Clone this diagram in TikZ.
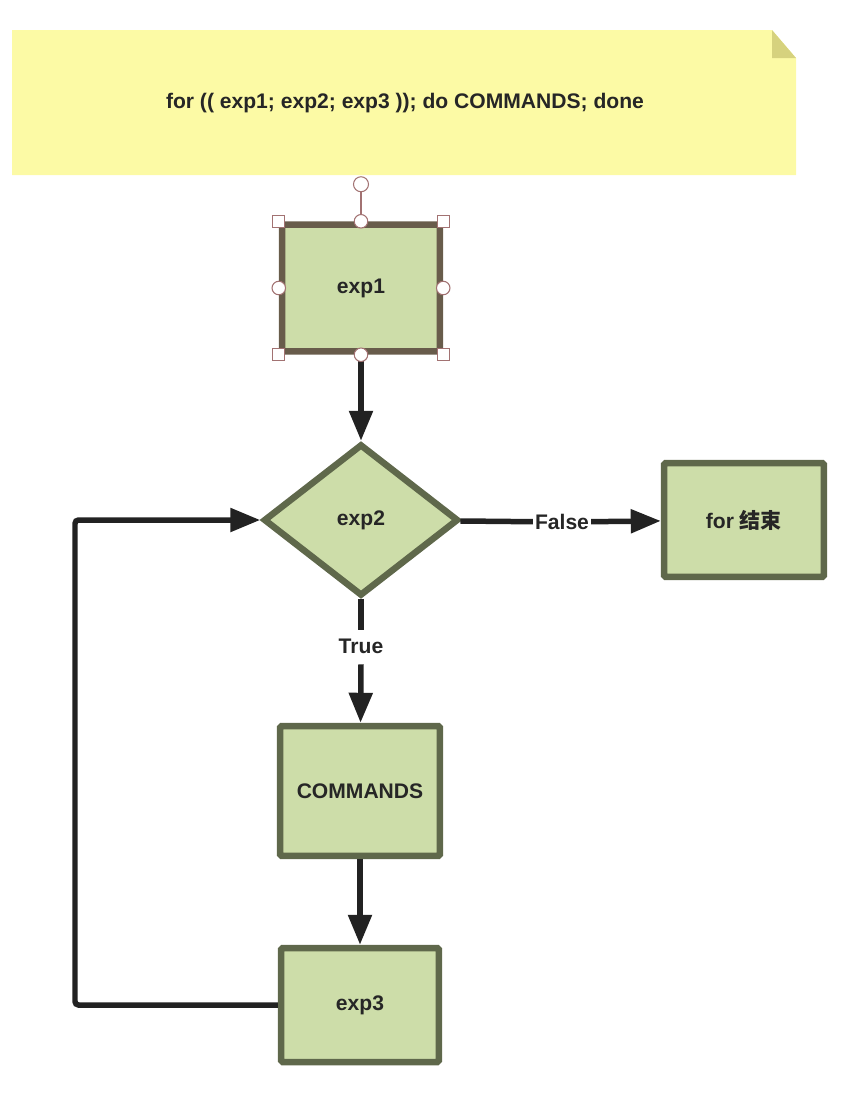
\documentclass[tikz,border=0pt]{standalone}
\usepackage{fontspec}
\setmainfont{Liberation Sans}
\newfontfamily\cjk{Noto Sans CJK SC}
\usepackage{xcolor}
\usepackage{tikz}
\usetikzlibrary{shapes.geometric}
\usetikzlibrary{arrows.meta}
\usetikzlibrary{positioning}

\definecolor{boxfill}{HTML}{CDDDA9}
\definecolor{boxline}{HTML}{5F684B}
\definecolor{selline}{HTML}{685C4B}
\definecolor{notefill}{HTML}{FCFAA5}
\definecolor{notefold}{HTML}{D6D27E}
\definecolor{handle}{HTML}{A27272}
\definecolor{flow}{HTML}{222222}

\begin{document}
\begin{tikzpicture}[x=0.02cm, y=-0.02cm,
  every node/.style={font=\bfseries\fontsize{12}{14}\selectfont, text=black!85},
  box/.style={rectangle, draw=boxline, fill=boxfill, line width=0.13cm, rounded corners=1pt},
  cond/.style={diamond, draw=boxline, fill=boxfill, line width=0.13cm, inner sep=0pt, minimum width=3.9cm, minimum height=3.04cm},
  lbl/.style={inner sep=1pt},
  flowline/.style={draw=flow, line width=0.11cm, -{Triangle[length=0.6cm, width=0.46cm]}},
  plainline/.style={draw=flow, line width=0.11cm},
  sq/.style={rectangle, draw=handle, fill=white, line width=0.6pt, minimum size=0.24cm, inner sep=0pt},
  dot/.style={circle, draw=handle, fill=white, line width=0.6pt, minimum size=0.27cm, inner sep=0pt}]
  \useasboundingbox (0,0) rectangle (844,1117);

  % note
  \fill[notefill] (12,30) -- (772,30) -- (796,58) -- (796,175) -- (12,175) -- cycle;
  \fill[notefold] (772,30) -- (796,58) -- (772,58) -- cycle;
  \node (note) at (405,103) {for (( exp1; exp2; exp3 )); do COMMANDS; done};

  % steps
  \node (exp1) [box, draw=selline, minimum width=3.16cm, minimum height=2.54cm] at (361,288) {exp1};
  \node (exp2) [cond] at (361,520) {exp2};
  \node (fin)  [box, minimum width=3.2cm, minimum height=2.28cm] at (744,520) {for {\cjk 结束}};
  \node (cmds) [box, minimum width=3.2cm, minimum height=2.6cm] at (360,791) {COMMANDS};
  \node (exp3) [box, minimum width=3.16cm, minimum height=2.28cm] at (360,1005) {exp3};
  \node (falselbl) [lbl] at (562,522) {False};
  \node (truelbl)  [lbl] at (361,646) {True};
  \coordinate (back) at (75,1005);

  \draw[flowline] (exp1) -- (exp2);
  \draw[plainline] (exp2) -- (falselbl);
  \draw[flowline] (falselbl) -- (fin);
  \draw[plainline] (exp2.south) -- ++(0,31);
  \draw[flowline] (truelbl.south) ++(0,9) -- (cmds);
  \draw[flowline] (cmds) -- (exp3);
  \draw[flowline, rounded corners=2pt] (exp3.west) -- (back) |- (exp2.west);

  % selection handles
  \draw[handle, line width=0.8pt] (exp1.north) -- ++(0,-29) node (rot) [dot, minimum size=0.3cm, anchor=south] {};
  \foreach \a in {north west, north east, south west, south east}
    \node [sq] at (exp1.\a) {};
  \foreach \a in {north, south, east, west}
    \node [dot] at (exp1.\a) {};
\end{tikzpicture}
\end{document}
